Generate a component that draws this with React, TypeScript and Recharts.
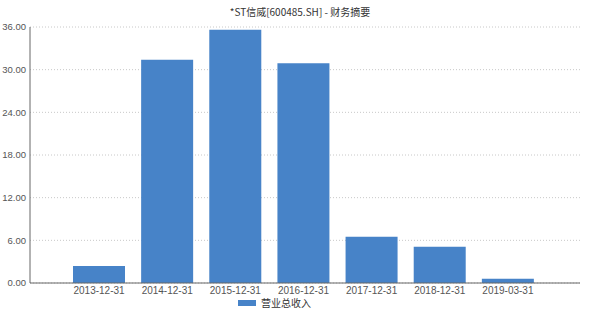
import React from 'react';
import { BarChart, Bar, XAxis, YAxis, CartesianGrid, Legend } from 'recharts';

const periods = ['2013-12-31', '2014-12-31', '2015-12-31', '2016-12-31', '2017-12-31', '2018-12-31', '2019-03-31'];
const revenue = [2.4, 31.4, 35.6, 30.9, 6.5, 5.1, 0.6];
const yTicks = [0, 6, 12, 18, 24, 30, 36];

const data = periods.map((p, i) => ({ period: p, revenue: revenue[i] }));

const FONT = '"Liberation Sans", "Noto Sans CJK SC", sans-serif';
const CJK = '"Noto Sans CJK SC", sans-serif';
const BAR_COLOR = '#4783c8';

// small legend swatch + label, sits a bit left of centre like the original
const LegendContent = () => (
  <div style={{ display: 'flex', justifyContent: 'flex-start', alignItems: 'flex-start', paddingLeft: 238, height: 16, fontFamily: CJK, fontSize: 10, lineHeight: '10px', color: '#333' }}>
    <span style={{ width: 18, height: 6, background: BAR_COLOR, marginRight: 5, marginTop: 2, display: 'inline-block' }}></span>
    <span>营业总收入</span>
  </div>
);

export default function App() {
  return (
    <div style={{ position: 'absolute', left: 0, top: 0, width: 600, height: 314, background: '#fff' }}>
      <div style={{ position: 'absolute', top: 4, left: 0, width: 600, textAlign: 'center', fontFamily: CJK, fontSize: 10, color: '#333' }}>
        *ST信威[600485.SH] - 财务摘要
      </div>
      <BarChart width={600} height={314} data={data} margin={{ top: 27, right: 20, left: 0, bottom: 0 }}>
        <CartesianGrid vertical={false} stroke="#c8c8c8" strokeDasharray="1 2" />
        <XAxis
          dataKey="period"
          height={15}
          padding={{ left: 35, right: 38 }}
          tickLine={false}
          tickSize={2}
          stroke="#666"
          tick={{ fill: '#555', fontSize: 10, fontFamily: FONT }}
          interval={0}
        />
        <YAxis
          width={30}
          domain={[0, 36]}
          ticks={yTicks}
          tickLine={false}
          tickSize={2}
          stroke="#666"
          tick={{ fill: '#555', fontSize: 9.5, fontFamily: FONT }}
          tickFormatter={(v) => Number(v).toFixed(2)}
        />
        <Legend verticalAlign="bottom" content={<LegendContent />} />
        <Bar dataKey="revenue" name="营业总收入" fill={BAR_COLOR} barSize={52} isAnimationActive={false} />
      </BarChart>
    </div>
  );
}
